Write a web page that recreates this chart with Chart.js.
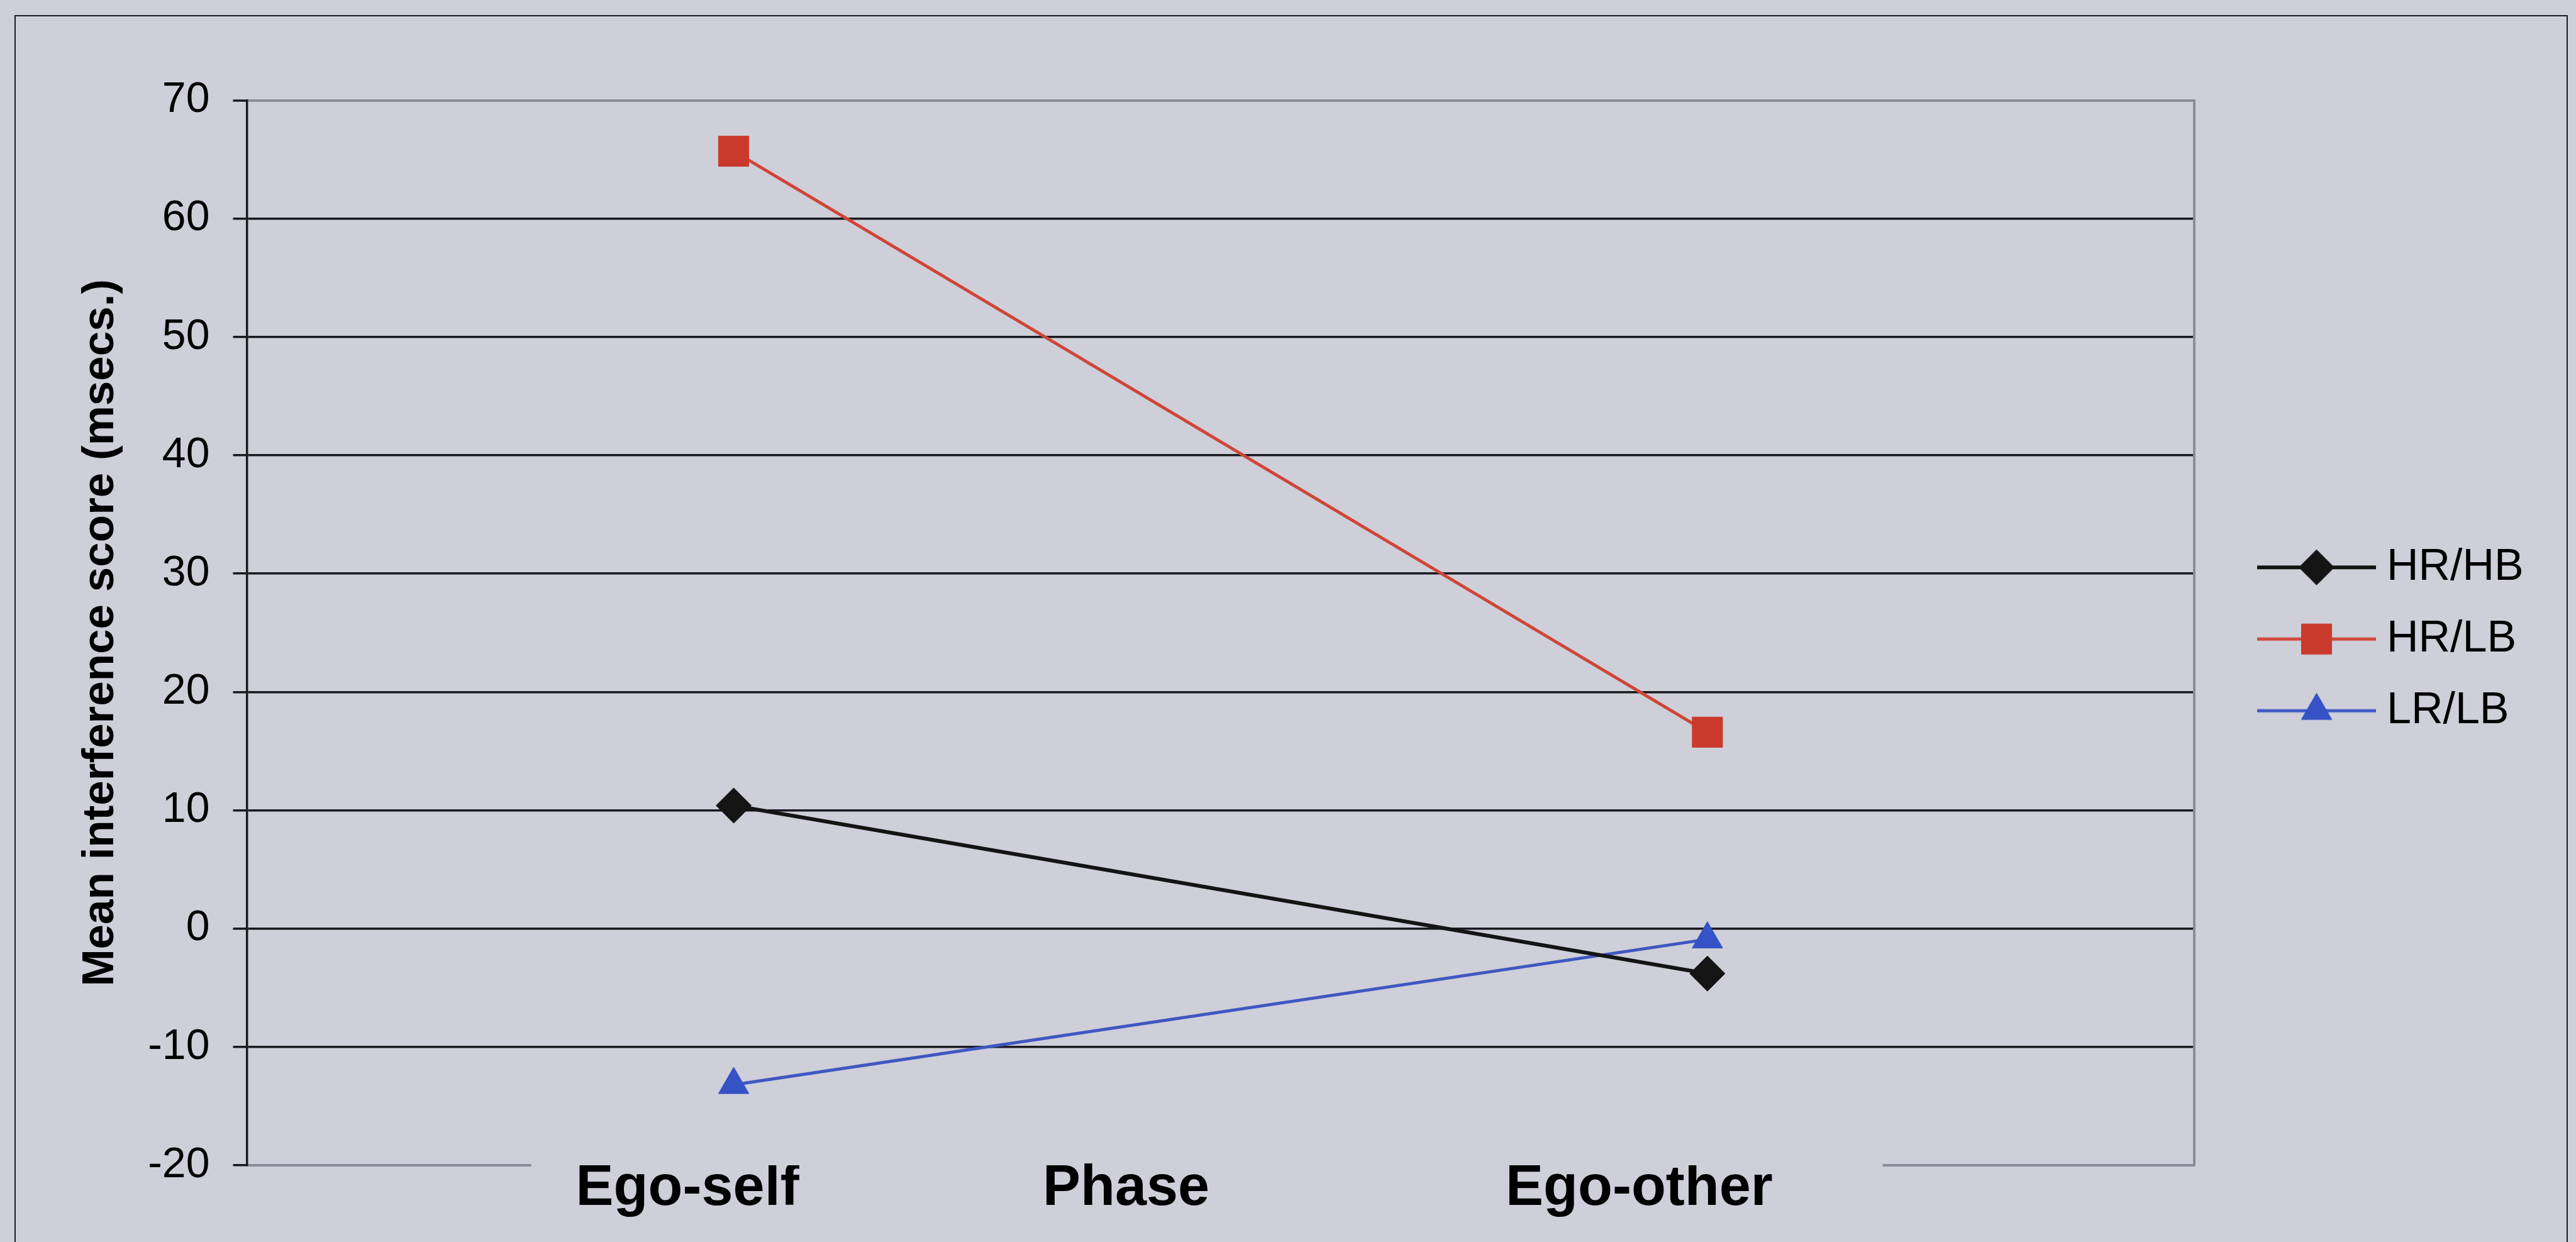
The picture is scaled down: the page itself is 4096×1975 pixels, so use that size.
<!DOCTYPE html>
<html>
<head>
<meta charset="utf-8">
<title>Mean interference score by phase</title>
<script src="https://cdn.jsdelivr.net/npm/chart.js@4/dist/chart.umd.min.js"></script>
<style>
  html, body { margin: 0; padding: 0; background: #cecfd9; overflow: hidden; }
  #wrap { position: relative; width: 4096px; height: 1975px; }
  #frame { position: absolute; left: 23px; top: 24px; width: 4060px; height: 2100px;
           border: 2px solid #1c1c22; box-sizing: border-box; }
  canvas { position: absolute; left: 0; top: 0; }
</style>
</head>
<body>
<div id="wrap">
  <div id="frame"></div>
  <canvas id="chart" width="4096" height="1975"></canvas>
</div>
<script>
// ---- data ----
const phases = ['Ego-self', 'Ego-other'];
const phaseAxisTitle = 'Phase';
const yAxisTitle = 'Mean interference score (msecs.)';
const groupNames = ['HR/HB', 'HR/LB', 'LR/LB'];
const hrhbScores = [10.4, -3.8];
const hrlbScores = [65.7, 16.6];
const lrlbScores = [-13.2, -0.9];
const yMin = -20;
const yMax = 70;
const yStep = 10;

// ---- styling ----
const pageColor = '#cecfd9';
const gridBlack = '#18181e';
const frameGrey = '#8a8d99';
const FONT = "'Liberation Sans', Arial, sans-serif";

const seriesStyle = [
  { line: '#141414', fill: '#141414', width: 6, marker: 'rectRot',  radius: 28 },
  { line: '#cf4638', fill: '#c93a2c', width: 5, marker: 'rect',     radius: 34 },
  { line: '#3f57c2', fill: '#3552c6', width: 5, marker: 'triangle', radius: 28 }
];

// legend geometry
const legendFontSize = 70;
const legendGap = 44;
const legendBoxW = 227;
const legendIconW = 263;
const legendLineStart = 74;
const legendExtraWidth = 10;   // Chart.js adds this to vertical legends
const plotRightEdge = 3489;

// legend icon: a short line with the series marker in its middle
function legendIcon(st) {
  const c = document.createElement('canvas');
  c.width = legendIconW; c.height = 72;
  const g = c.getContext('2d');
  const cy = 36;
  g.strokeStyle = st.line; g.lineWidth = st.width;
  g.beginPath(); g.moveTo(legendLineStart, cy); g.lineTo(legendIconW, cy); g.stroke();
  g.fillStyle = st.fill; g.strokeStyle = st.fill; g.lineWidth = 1;
  Chart.helpers.drawPoint(g, { pointStyle: st.marker, radius: st.radius, rotation: 0, borderWidth: 1 },
    legendLineStart + (legendIconW - legendLineStart) / 2, cy);
  return c;
}
const legendIcons = seriesStyle.map(legendIcon);

// right padding so that the plot ends where the legend block begins
const measure = document.createElement('canvas').getContext('2d');
measure.font = legendFontSize + 'px ' + FONT;
const widestName = Math.max(...groupNames.map(t => measure.measureText(t).width));
const padRight = 4096 - plotRightEdge
  - (legendGap + legendBoxW + legendFontSize / 2 + widestName + legendExtraWidth);

// the category labels sit in a text box that hides part of the bottom axis line
const coverFrom = 0.146, coverTo = 0.840;
const phaseTitleAt = 0.4515;

const phaseTitlePlugin = {
  id: 'phaseTitle',
  afterDatasetsDraw(chart) {
    const s = chart.scales.x, ctx = chart.ctx;
    ctx.save();
    ctx.fillStyle = pageColor;
    ctx.fillRect(s.left + coverFrom * s.width, s.top - 5, (coverTo - coverFrom) * s.width, 10);
    ctx.restore();
  },
  afterDraw(chart) {
    const s = chart.scales.x, ctx = chart.ctx;
    ctx.save();
    ctx.font = 'bold 90px ' + FONT;
    ctx.fillStyle = '#000';
    ctx.textAlign = 'center';
    ctx.textBaseline = 'middle';
    ctx.fillText(phaseAxisTitle, s.left + phaseTitleAt * s.width, s.top + 38);
    ctx.restore();
  }
};

const seriesData = [hrhbScores, hrlbScores, lrlbScores];

new Chart(document.getElementById('chart'), {
  type: 'line',
  data: {
    labels: phases,
    datasets: seriesData.map((d, i) => ({
      label: groupNames[i],
      data: d,
      borderColor: seriesStyle[i].line,
      backgroundColor: seriesStyle[i].fill,
      borderWidth: seriesStyle[i].width,
      pointStyle: seriesStyle[i].marker,
      pointRadius: seriesStyle[i].radius,
      pointHoverRadius: seriesStyle[i].radius,
      pointBackgroundColor: seriesStyle[i].fill,
      pointBorderColor: seriesStyle[i].fill,
      pointBorderWidth: 1,
      tension: 0,
      fill: false
    }))
  },
  options: {
    responsive: false,
    devicePixelRatio: 1,
    animation: false,
    events: [],
    layout: { padding: { left: 110, top: 159.5, right: padRight, bottom: 0 } },
    font: { family: FONT },
    scales: {
      x: {
        type: 'category',
        offset: true,
        grid: { display: false, drawTicks: false },
        border: { display: true, color: frameGrey, width: 4 },
        ticks: {
          font: { family: FONT, size: 90, weight: 'bold', lineHeight: 0.8 },
          color: '#000',
          align: 'end',
          labelOffset: 104,
          padding: 2,
          maxRotation: 0,
          autoSkip: false,
          z: 1
        },
        afterFit(s) { s.height = 122; }
      },
      y: {
        min: yMin,
        max: yMax,
        ticks: { stepSize: yStep, font: { family: FONT, size: 68 }, color: '#000', padding: 37 },
        grid: {
          color: c => (c.tick && c.tick.value === yMax) ? frameGrey
                    : (c.tick && c.tick.value === yMin) ? 'rgba(0,0,0,0)' : gridBlack,
          lineWidth: c => (c.tick && c.tick.value === yMax) ? 4 : 3.5,
          tickLength: 22,
          tickColor: gridBlack,
          tickWidth: 3.5
        },
        border: { display: true, color: gridBlack, width: 3.5 },
        title: {
          display: true,
          text: yAxisTitle,
          color: '#000',
          font: { family: FONT, size: 71, weight: 'bold', lineHeight: 1 },
          padding: { top: 15, bottom: 0 }
        },
        afterFit(s) { s.width = 282.5; }
      },
      yRight: {
        position: 'right',
        display: true,
        grid: { display: false, drawTicks: false },
        ticks: { display: false },
        border: { display: true, color: frameGrey, width: 4 },
        afterFit(s) { s.width = 0; }
      }
    },
    plugins: {
      tooltip: { enabled: false },
      legend: {
        position: 'right',
        align: 'center',
        fullSize: false,
        title: { display: true, text: '', padding: { top: 10, bottom: 10 }, font: { size: 1, lineHeight: 0 } },
        labels: {
          usePointStyle: true,
          pointStyleWidth: legendBoxW,
          boxHeight: legendFontSize,
          padding: legendGap,
          color: '#000',
          font: { family: FONT, size: legendFontSize },
          generateLabels: chart => chart.data.datasets.map((ds, i) => ({
            text: ds.label,
            pointStyle: legendIcons[i],
            datasetIndex: i,
            fillStyle: ds.borderColor,
            strokeStyle: ds.borderColor,
            lineWidth: 0,
            hidden: false,
            fontColor: '#000'
          }))
        }
      }
    }
  },
  plugins: [phaseTitlePlugin]
});
</script>
</body>
</html>
